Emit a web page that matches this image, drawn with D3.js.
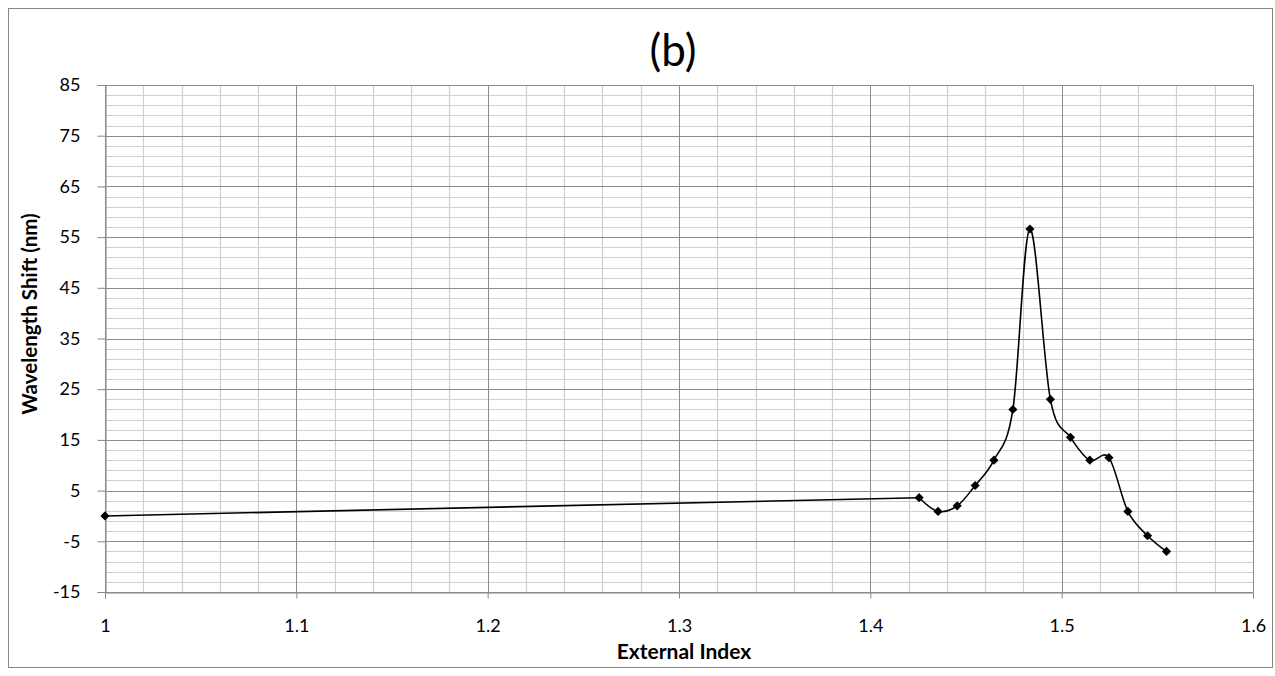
<!DOCTYPE html>
<html>
<head>
<meta charset="utf-8">
<script src="https://cdn.jsdelivr.net/npm/d3@7"></script>
<style>
  html, body { margin: 0; padding: 0; background: #fff; }
  svg { display: block; font-family: Lato, "Open Sans", sans-serif; }
</style>
</head>
<body>
<svg id="chart" width="1275" height="676"></svg>
<script>
// ---- data ----
const externalIndex = [1, 1.4255, 1.4354, 1.4454, 1.4548, 1.4646, 1.4745, 1.4834, 1.4941, 1.5046, 1.5147, 1.5247, 1.5346, 1.5449, 1.5548];
const wavelengthShift = [0, 3.6, 0.9, 2.0, 6.0, 11.0, 21.0, 56.6, 23.0, 15.5, 11.0, 11.5, 0.9, -3.9, -7.0];
const xTickValues = [1, 1.1, 1.2, 1.3, 1.4, 1.5, 1.6];
const xTickLabels = ["1", "1.1", "1.2", "1.3", "1.4", "1.5", "1.6"];
const yTickValues = [-15, -5, 5, 15, 25, 35, 45, 55, 65, 75, 85];
const yTickLabels = ["-15", "-5", "5", "15", "25", "35", "45", "55", "65", "75", "85"];
const titleText = "(b)";
const xTitle = "External Index";
const yTitle = "Wavelength Shift (nm)";

const svg = d3.select("#chart");
const L = 105, R = 1253, T = 85, B = 592;
const x = d3.scaleLinear().domain([1, 1.6]).range([L, R]);
const y = d3.scaleLinear().domain([-15, 85]).range([B, T]);

// outer border
svg.append("rect").attr("x", 8.5).attr("y", 8.5).attr("width", 1264).attr("height", 659)
  .attr("fill", "#fff").attr("stroke", "#868686").attr("stroke-width", 1);

// minor grid
const minorX = d3.range(0, 31).map(i => 1 + i * 0.02).filter((v, i) => i % 5 !== 0);
const minorY = d3.range(0, 51).map(i => -15 + i * 2).filter((v, i) => i % 5 !== 0);
const g = svg.append("g");
g.selectAll(".mx").data(minorX).join("line")
  .attr("x1", d => Math.round(x(d)) + 0.5).attr("x2", d => Math.round(x(d)) + 0.5)
  .attr("y1", T).attr("y2", B).attr("stroke", "#d0d0d0").attr("stroke-width", 1.2);
g.selectAll(".my").data(minorY).join("line")
  .attr("y1", d => Math.round(y(d)) + 0.5).attr("y2", d => Math.round(y(d)) + 0.5)
  .attr("x1", L).attr("x2", R).attr("stroke", "#d0d0d0").attr("stroke-width", 1.2);
// major grid
g.selectAll(".Mx").data(xTickValues).join("line")
  .attr("x1", d => Math.round(x(d)) + 0.5).attr("x2", d => Math.round(x(d)) + 0.5)
  .attr("y1", T).attr("y2", B).attr("stroke", "#8c8c8c").attr("stroke-width", 1);
g.selectAll(".My").data(yTickValues).join("line")
  .attr("y1", d => Math.round(y(d)) + 0.5).attr("y2", d => Math.round(y(d)) + 0.5)
  .attr("x1", L).attr("x2", R).attr("stroke", "#8c8c8c").attr("stroke-width", 1);

// axes
const yAxis = d3.axisLeft(y).tickValues(yTickValues).tickFormat((d, i) => yTickLabels[i])
  .tickSize(8).tickPadding(17);
const yg = svg.append("g").attr("transform", `translate(${L + 0.5},0)`).call(yAxis);
const xAxis = d3.axisBottom(x).tickValues(xTickValues).tickFormat((d, i) => xTickLabels[i])
  .tickSize(6).tickPadding(21);
const xg = svg.append("g").attr("transform", `translate(0,${B + 0.5})`).call(xAxis);
[yg, xg].forEach(a => {
  a.select(".domain").attr("stroke", "#868686");
  a.selectAll(".tick line").attr("stroke", "#868686");
  a.selectAll(".tick text").attr("fill", "#000").style("font-size", "18px")
    .style("font-family", "Lato, 'Open Sans', sans-serif");
});

// line: long first span straight, remaining points smoothed
const pts = externalIndex.map((v, i) => [x(v), y(wavelengthShift[i])]);
const lineG = svg.append("g").attr("fill", "none").attr("stroke", "#000").attr("stroke-width", 1.6);
lineG.append("path").attr("d", d3.line()(pts.slice(0, 2)));
lineG.append("path").attr("d", d3.line().curve(d3.curveCardinal.tension(0))(pts.slice(1)));

// markers
svg.selectAll(".mk").data(pts).join("path")
  .attr("d", d3.symbol(d3.symbolSquare, 42)())
  .attr("transform", d => `translate(${d[0]},${d[1]}) rotate(45)`)
  .attr("fill", "#000");

// titles
svg.append("text").attr("x", 673).attr("y", 66).attr("text-anchor", "middle")
  .style("font-size", "44px").text(titleText);
svg.append("text").attr("x", 684).attr("y", 659).attr("text-anchor", "middle")
  .style("font-size", "21px").style("font-weight", "bold").text(xTitle);
svg.append("text").attr("transform", "translate(37,314) rotate(-90)").attr("text-anchor", "middle")
  .style("font-size", "20.5px").style("font-weight", "bold").text(yTitle);
</script>
</body>
</html>
